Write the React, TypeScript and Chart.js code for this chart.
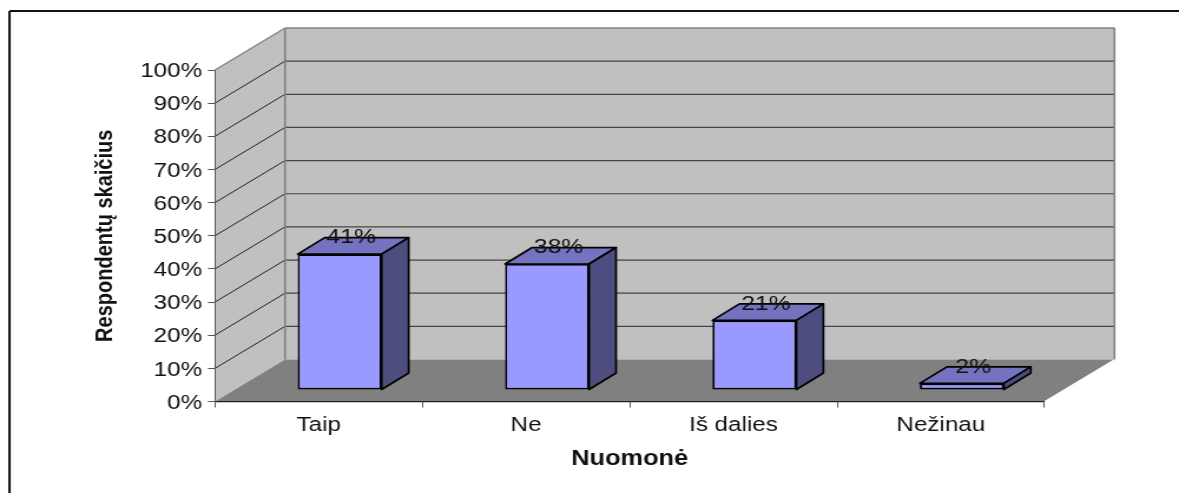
import { useEffect, useRef } from "react";
import { Chart, registerables } from "chart.js";

Chart.register(...registerables);

const categories = ["Taip", "Ne", "Iš dalies", "Nežinau"];
const shares = [41, 38, 21, 2];
const tickStep = 10;
const axisMax = 100;
const yAxisTitle = "Respondentų skaičius";
const xAxisTitle = "Nuomonė";

// The canvas is laid out narrow and widened with a CSS transform, which gives the wide letter shapes.
const WIDEN = 1.179;
const CANVAS_W = 1000;
const CANVAS_H = 493;
const px = (x: number) => x / WIDEN;

const PLOT_LEFT = px(215);
const PLOT_RIGHT = px(1044.5);
const PLOT_TOP = 70;
const PLOT_BOTTOM = 401.5;

// Depth of the floor, and of the bars standing on it.
const WALL_DX = px(70);
const WALL_DY = -42;
const BAR_SHIFT_X = px(21);
const BAR_SHIFT_Y = -11.5;
const BAR_DX = px(27);
const BAR_DY = -16.5;

const FACE_FRONT = "#9999ff";
const FACE_TOP = "#7373bf";
const FACE_SIDE = "#4d4d80";
const WALL = "#c0c0c0";
const FLOOR = "#808080";
const FONT = "'Liberation Sans', Arial, sans-serif";

function poly(ctx: CanvasRenderingContext2D, pts: number[][], fill: string, stroke?: string, lw = 1) {
  ctx.beginPath();
  pts.forEach(([x, y], i) => (i ? ctx.lineTo(x, y) : ctx.moveTo(x, y)));
  ctx.closePath();
  ctx.fillStyle = fill;
  ctx.fill();
  if (stroke) {
    ctx.strokeStyle = stroke;
    ctx.lineWidth = lw;
    ctx.lineJoin = "round";
    ctx.stroke();
  }
}

function line(ctx: CanvasRenderingContext2D, x1: number, y1: number, x2: number, y2: number, color: string, lw: number) {
  ctx.beginPath();
  ctx.moveTo(x1, y1);
  ctx.lineTo(x2, y2);
  ctx.strokeStyle = color;
  ctx.lineWidth = lw;
  ctx.stroke();
}

// Frame, side wall, back wall, floor and the gridlines carried across the walls.
const roomPlugin = {
  id: "room",
  beforeDraw(chart: any) {
    const { ctx, chartArea: a, scales } = chart;
    const L = a.left, R = a.right, T = a.top, B = a.bottom;
    const dx = WALL_DX, dy = WALL_DY;
    ctx.save();
    ctx.fillStyle = "#fff";
    ctx.fillRect(0, 0, chart.width, chart.height);
    line(ctx, px(9.5), 11, chart.width, 11, "#111", 2);
    line(ctx, px(9.5), 11, px(9.5), chart.height, "#111", 2);

    poly(ctx, [[L + dx, T + dy], [R + dx, T + dy], [R + dx, B + dy], [L + dx, B + dy]], WALL);
    poly(ctx, [[L, T], [L + dx, T + dy], [L + dx, B + dy], [L, B]], WALL);
    for (const tick of scales.y.ticks) {
      if (tick.value === 0 || tick.value === axisMax) continue;
      const y = scales.y.getPixelForValue(tick.value);
      line(ctx, L, y, L + dx, y + dy, "#222", 1);
      line(ctx, L + dx, y + dy, R + dx, y + dy, "#444", 1.2);
    }
    poly(ctx, [[L, B], [L + dx, B + dy], [R + dx, B + dy], [R, B]], FLOOR);
    line(ctx, L, T, L + dx, T + dy, "#808080", 1.2);
    line(ctx, L + dx, T + dy, R + dx, T + dy, "#808080", 1.6);
    line(ctx, L + dx, T + dy, L + dx, B + dy, "#808080", 1.6);
    line(ctx, R + dx, T + dy, R + dx, B + dy, "#808080", 1.6);
    line(ctx, R + dx, B + dy, R, B, "#fff", 1);
    ctx.restore();
  },
};

// Moves the bars back onto the floor and adds their top and side faces plus the value labels.
const depthPlugin = {
  id: "depth",
  beforeDatasetsDraw(chart: any) {
    const { ctx } = chart;
    ctx.save();
    ctx.translate(BAR_SHIFT_X, BAR_SHIFT_Y);
    const bars = chart.getDatasetMeta(0).data;
    for (const bar of bars) {
      const l = bar.x - bar.width / 2;
      const r = bar.x + bar.width / 2;
      const top = bar.y;
      const base = bar.base;
      poly(ctx, [[l, top], [l + BAR_DX, top + BAR_DY], [r + BAR_DX, top + BAR_DY], [r, top]], FACE_TOP, "#000", 1.7);
      poly(ctx, [[r, top], [r + BAR_DX, top + BAR_DY], [r + BAR_DX, base + BAR_DY], [r, base]], FACE_SIDE, "#000", 1.7);
    }
  },
  afterDatasetsDraw(chart: any) {
    const { ctx } = chart;
    ctx.restore();
    ctx.save();
    ctx.translate(BAR_SHIFT_X, BAR_SHIFT_Y);
    ctx.fillStyle = "#111";
    ctx.font = `21px ${FONT}`;
    ctx.textAlign = "center";
    ctx.textBaseline = "alphabetic";
    chart.getDatasetMeta(0).data.forEach((bar: any, i: number) => {
      ctx.fillText(`${shares[i]}%`, bar.x + BAR_DX / 2 - px(2), bar.y + BAR_DY / 2 - 2.5);
    });
    ctx.restore();
  },
};

export default function App() {
  const canvasRef = useRef<HTMLCanvasElement>(null);

  useEffect(() => {
    const chart = new Chart(canvasRef.current!, {
      type: "bar",
      data: {
        labels: categories,
        datasets: [
          {
            data: shares,
            backgroundColor: FACE_FRONT,
            borderColor: "#000",
            borderWidth: 1.8,
            borderSkipped: false,
            barPercentage: 0.405,
            categoryPercentage: 1,
          },
        ],
      },
      plugins: [roomPlugin, depthPlugin],
      options: {
        responsive: false,
        animation: false,
        layout: {
          padding: { left: 0, top: PLOT_TOP, right: CANVAS_W - PLOT_RIGHT, bottom: 0 },
        },
        plugins: { legend: { display: false }, title: { display: false }, tooltip: { enabled: false } },
        scales: {
          x: {
            grid: {
              offset: true,
              drawOnChartArea: false,
              drawTicks: true,
              tickLength: 6,
              color: "#555",
            },
            border: { display: true, color: "#222", width: 1.2 },
            ticks: { color: "#111", font: { family: FONT, size: 20.5 }, padding: 6, maxRotation: 0 },
            title: {
              display: true,
              text: xAxisTitle,
              color: "#111",
              font: { family: FONT, size: 21.5, weight: "bold" },
              padding: { top: 6, bottom: 21 },
            },
            afterFit(scale: any) {
              scale.height = CANVAS_H - PLOT_BOTTOM;
            },
          },
          y: {
            min: 0,
            max: axisMax,
            grid: { drawOnChartArea: false, drawTicks: true, tickLength: 6, color: "#555" },
            border: { display: true, color: "#555", width: 1 },
            ticks: {
              stepSize: tickStep,
              color: "#111",
              font: { family: FONT, size: 20.5 },
              padding: 5,
              labelOffset: 1.5,
              callback: (v: any) => `${v}%`,
            },
            title: {
              display: true,
              text: yAxisTitle,
              color: "#111",
              font: { family: FONT, size: 20, weight: "bold" },
              padding: { top: 77, bottom: 0 },
            },
            afterFit(scale: any) {
              scale.width = PLOT_LEFT;
            },
          },
        },
      },
    });
    return () => chart.destroy();
  }, []);

  return (
    <canvas
      ref={canvasRef}
      width={CANVAS_W}
      height={CANVAS_H}
      style={{ position: "absolute", left: 0, top: 0, transform: `scaleX(${WIDEN})`, transformOrigin: "0 0" }}
    />
  );
}
